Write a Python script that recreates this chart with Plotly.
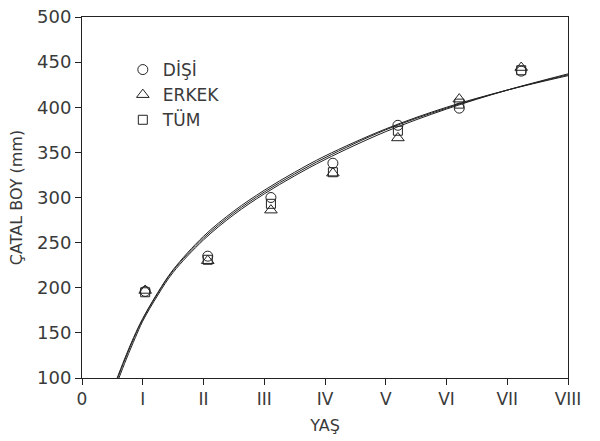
import plotly.graph_objects as go

age_pos = [1.04, 2.07, 3.11, 4.13, 5.20, 6.21, 7.23]
disi = [196, 235, 300, 338, 380, 399, 440]
erkek = [197, 230, 286, 327, 366, 409, 444]
tum = [195, 231, 293, 328, 374, 404, 441]

# Fitted growth curves
curve_t_disi = [0.55, 0.70, 0.85, 1.0, 1.25, 1.5, 2.0, 2.5, 3.0, 3.5, 4.0, 5.0, 6.0, 7.0, 8.0]
curve_disi = [95, 121, 145, 166, 195, 220, 257, 285, 308, 328, 346, 376, 400, 419, 435]
curve_t_erkek = [0.58, 0.73, 0.88, 1.0, 1.25, 1.5, 2.0, 2.5, 3.0, 3.5, 4.0, 5.0, 6.0, 7.0, 8.0]
curve_erkek = [95, 121, 145, 163, 192, 217, 253, 281, 304, 324, 342, 373, 398, 419, 437]
curve_t_tum = [0.56, 0.71, 0.86, 1.0, 1.25, 1.5, 2.0, 2.5, 3.0, 3.5, 4.0, 5.0, 6.0, 7.0, 8.0]
curve_tum = [95, 121, 145, 165, 194, 219, 255, 283, 306, 326, 344, 375, 399, 419, 436]

x_tick_vals = [0, 1, 2, 3, 4, 5, 6, 7, 8]
x_tick_text = ["0", "I", "II", "III", "IV", "V", "VI", "VII", "VIII"]
y_tick_vals = [100, 150, 200, 250, 300, 350, 400, 450, 500]

ink = "#222222"
txt = "#3a3a3a"
font_family = "DejaVu Sans"

fig = go.Figure()
for t, v in [(curve_t_disi, curve_disi), (curve_t_erkek, curve_erkek), (curve_t_tum, curve_tum)]:
    fig.add_trace(go.Scatter(x=t, y=v, mode="lines", line=dict(color=ink, width=1, shape="spline", smoothing=1.0),
                             showlegend=False, hoverinfo="skip"))

fig.add_trace(go.Scatter(x=age_pos, y=disi, mode="markers", name="DİŞİ",
                         marker=dict(symbol="circle-open", size=10, color=ink, line=dict(width=1, color=ink))))
fig.add_trace(go.Scatter(x=age_pos, y=erkek, mode="markers", name="ERKEK",
                         marker=dict(symbol="triangle-up-open", size=11, color=ink, line=dict(width=1, color=ink))))
fig.add_trace(go.Scatter(x=age_pos, y=tum, mode="markers", name="TÜM",
                         marker=dict(symbol="square-open", size=9, color=ink, line=dict(width=1, color=ink))))

fig.update_layout(
    width=600, height=441,
    margin=dict(l=82, r=32, t=17, b=63, autoexpand=False),
    paper_bgcolor="white", plot_bgcolor="white",
    font=dict(family=font_family, color=txt, size=17),
    legend=dict(x=0.084, y=0.903, xanchor="left", yanchor="top", bgcolor="rgba(0,0,0,0)",
                font=dict(size=17, color=txt), itemwidth=30, tracegroupgap=0),
    xaxis=dict(range=[0, 8], tickvals=x_tick_vals, ticktext=x_tick_text, showgrid=False, zeroline=False,
               showline=True, linecolor=ink, linewidth=1, mirror=True, ticks="outside", ticklen=6,
               tickcolor=ink, tickfont=dict(size=17, color=txt), automargin=False,
               ticklabeloverflow="allow",
               title=dict(text="YAŞ", font=dict(size=16, color=txt), standoff=11)),
    yaxis=dict(range=[100, 500], tickvals=y_tick_vals, showgrid=False, zeroline=False,
               showline=True, linecolor=ink, linewidth=1, mirror=True, ticks="outside", ticklen=6,
               tickcolor=ink, tickfont=dict(size=18, color=txt), automargin=False,
               ticklabeloverflow="allow",
               title=dict(text="ÇATAL BOY (mm)", font=dict(size=16, color=txt), standoff=10)),
)

# remove the default 8px page margin so the figure sits at the window's top-left corner
fig.write_html("out.html", config={"displayModeBar": False},
               post_script="document.body.style.margin='0';")
